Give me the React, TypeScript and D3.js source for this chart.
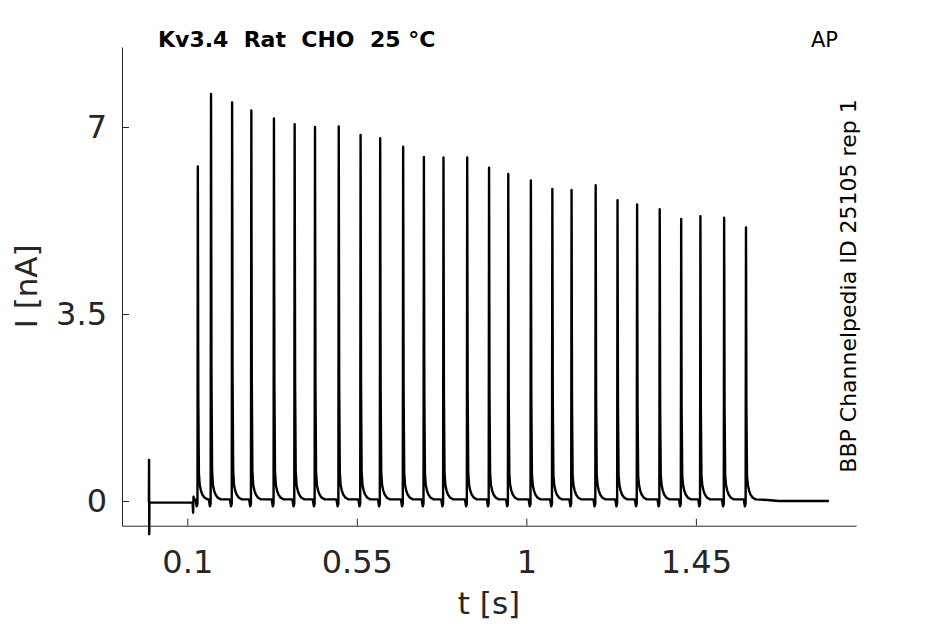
import { useEffect, useRef } from "react";
import * as d3 from "d3";

// spike train (peak time in s, peak current in nA)
const spikeTimes = [
  0.128, 0.163, 0.219, 0.27, 0.33, 0.385, 0.439, 0.502, 0.56, 0.612, 0.673,
  0.728, 0.78, 0.843, 0.901, 0.952, 1.012, 1.069, 1.12, 1.184, 1.242, 1.294,
  1.354, 1.411, 1.462, 1.525, 1.583,
];
const spikePeaks = [
  6.26, 7.62, 7.46, 7.31, 7.16, 7.05, 7.0, 7.01, 6.85, 6.79, 6.63, 6.44, 6.43,
  6.43, 6.24, 6.12, 6.0, 5.84, 5.82, 5.91, 5.63, 5.55, 5.46, 5.28, 5.33, 5.3,
  5.12,
];

// shape of one spike around its peak: time offset, share of the peak, offset in nA
const shapeDt = [-0.006, -0.003, -0.001, 0, 0.0012, 0.0028, 0.005, 0.008, 0.012, 0.018, 0.026];
const shapeFrac = [0, 0, 0, 1, 0.3, 0.05, 0, 0, 0, 0, 0];
const shapeOffset = [0.03, -0.1, -0.05, 0, 0.1, 0.2, 0.3, 0.2, 0.12, 0.06, 0.03];

// stimulus artefact and holding level before the train
const startT = [-0.002, -0.0015, -0.001, -0.0005, 0.114, 0.1155, 0.1165, 0.118];
const startI = [-0.03, 0.77, -0.62, -0.03, -0.03, -0.22, 0.08, 0.0];

// holding level after the train
const endT = [1.64, 1.67, 1.803];
const endI = [0.02, 0.0, 0.0];

const xTicks = [0.1, 0.55, 1, 1.45];
const xTickLabels = ["0.1", "0.55", "1", "1.45"];
const yTicks = [0, 3.5, 7];
const yTickLabels = ["0", "3.5", "7"];

const W = 945;
const H = 624;
const FONT = "DejaVu Sans, sans-serif";
const AXIS = "#262626";

const buildTrace = () => {
  const pts: [number, number][] = [];
  startT.forEach((t, i) => pts.push([t, startI[i]]));
  spikeTimes.forEach((t0, k) => {
    shapeDt.forEach((dt, j) => {
      pts.push([t0 + dt, shapeFrac[j] * spikePeaks[k] + shapeOffset[j]]);
    });
  });
  endT.forEach((t, i) => pts.push([t, endI[i]]));
  return pts;
};

const App = () => {
  const ref = useRef<SVGSVGElement | null>(null);

  useEffect(() => {
    const left = 122;
    const right = 856;
    const top = 47;
    const bottom = 525.7;

    const x = d3.scaleLinear().domain([-0.0733, 1.875]).range([left, right]);
    const y = d3.scaleLinear().domain([-0.462, 8.497]).range([bottom, top]);

    const svg = d3.select(ref.current);
    svg.selectAll("*").remove();

    const line = d3
      .line<[number, number]>()
      .x((d) => x(d[0]))
      .y((d) => y(d[1]));

    svg
      .append("path")
      .datum(buildTrace())
      .attr("d", line)
      .attr("fill", "none")
      .attr("stroke", "#000")
      .attr("stroke-width", 2.4)
      .attr("stroke-linejoin", "round");

    const gx = svg
      .append("g")
      .attr("transform", `translate(0,${bottom})`)
      .call(
        d3
          .axisBottom(x)
          .tickValues(xTicks)
          .tickFormat((_, i) => xTickLabels[i])
          .tickSizeInner(-7)
          .tickSizeOuter(0)
          .tickPadding(25)
      );

    const gy = svg
      .append("g")
      .attr("transform", `translate(${left},0)`)
      .call(
        d3
          .axisLeft(y)
          .tickValues(yTicks)
          .tickFormat((_, i) => yTickLabels[i])
          .tickSizeInner(-7)
          .tickSizeOuter(0)
          .tickPadding(15)
      );

    [gx, gy].forEach((g) => {
      g.select(".domain").attr("stroke", AXIS);
      g.selectAll(".tick line").attr("stroke", AXIS);
      g.selectAll(".tick text")
        .attr("fill", AXIS)
        .attr("font-size", 32)
        .attr("font-family", FONT);
    });

    svg
      .append("text")
      .attr("x", (left + right) / 2)
      .attr("y", 614)
      .attr("text-anchor", "middle")
      .attr("font-size", 31)
      .attr("font-family", FONT)
      .attr("fill", AXIS)
      .text("t [s]");

    svg
      .append("text")
      .attr("transform", `translate(37,${(top + bottom) / 2}) rotate(-90)`)
      .attr("text-anchor", "middle")
      .attr("font-size", 31)
      .attr("font-family", FONT)
      .attr("fill", AXIS)
      .text("I [nA]");

    svg
      .append("text")
      .attr("x", 158)
      .attr("y", 47)
      .attr("font-size", 22)
      .attr("font-weight", "bold")
      .attr("font-family", FONT)
      .attr("fill", "#000")
      .style("white-space", "pre")
      .text("Kv3.4  Rat  CHO  25 °C");

    svg
      .append("text")
      .attr("x", 811)
      .attr("y", 47)
      .attr("font-size", 21)
      .attr("font-family", FONT)
      .attr("fill", "#000")
      .text("AP");

    svg
      .append("text")
      .attr("transform", `translate(856,286) rotate(-90)`)
      .attr("text-anchor", "middle")
      .attr("font-size", 22)
      .attr("font-family", FONT)
      .attr("fill", "#000")
      .text("BBP Channelpedia ID 25105 rep 1");
  }, []);

  return (
    <svg
      ref={ref}
      width={W}
      height={H}
      style={{ position: "absolute", left: 0, top: 0, background: "#fff" }}
    />
  );
};

export default App;
